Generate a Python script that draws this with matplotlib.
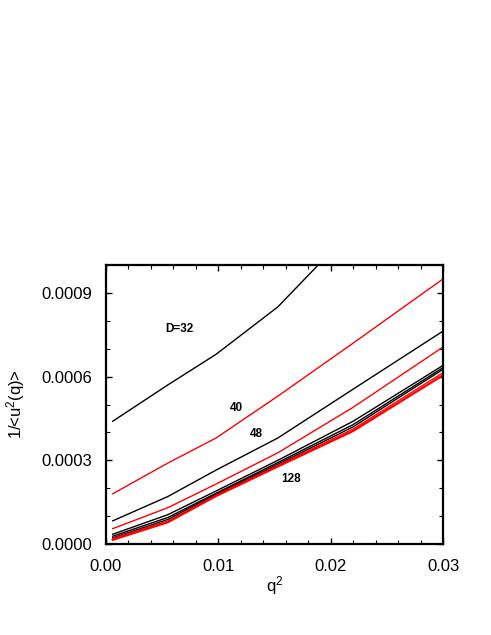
import matplotlib
matplotlib.use('Agg')
import matplotlib.pyplot as plt
from matplotlib.ticker import MultipleLocator

plt.rcParams['font.family'] = ['Liberation Sans', 'DejaVu Sans']
plt.rcParams['mathtext.fontset'] = 'custom'
plt.rcParams['mathtext.rm'] = 'Liberation Sans'
plt.rcParams['mathtext.it'] = 'Liberation Sans'

# q^2 points
q2 = [0.0006, 0.0055, 0.0098, 0.0153, 0.0220, 0.0300]

# 1/<u^2(q)> for each D
d32 = [0.00044, 0.00057, 0.00068, 0.00085, 0.00113, 0.00140]
d40 = [0.00018, 0.00029, 0.00038, 0.00053, 0.00072, 0.00095]
d48 = [0.000083, 0.00017, 0.000265, 0.00038, 0.000555, 0.000763]
d56 = [0.000055, 0.00013, 0.000215, 0.000327, 0.00049, 0.000706]
d64 = [0.000035, 0.000105, 0.000190, 0.000300, 0.000440, 0.000640]
d72 = [0.000028, 0.000095, 0.000182, 0.000292, 0.000428, 0.000632]
d80 = [0.000022, 0.000088, 0.000178, 0.000286, 0.000420, 0.000626]
d96 = [0.000020, 0.000082, 0.000175, 0.000282, 0.000412, 0.000614]
d128 = [0.000015, 0.000078, 0.000172, 0.000278, 0.000405, 0.000605]

fig = plt.figure(figsize=(4.91, 6.35), dpi=100)
ax = fig.add_axes([106 / 491, 1 - 544 / 635, 337 / 491, 279 / 635])

ax.plot(q2, d32, color='black', lw=1.0)
ax.plot(q2, d40, color='red', lw=1.0)
ax.plot(q2, d48, color='black', lw=1.0)
ax.plot(q2, d56, color='red', lw=1.0)
ax.plot(q2, d64, color='black', lw=1.0)
ax.plot(q2, d72, color='black', lw=1.0)
ax.plot(q2, d80, color='black', lw=1.0)
ax.plot(q2, d96, color='red', lw=1.0)
ax.plot(q2, d128, color='red', lw=1.6)

ax.text(0.0065, 0.00077, 'D=32', fontsize=8.5, fontweight='bold', ha='center', va='center')
ax.text(0.0116, 0.000487, '40', fontsize=8.5, fontweight='bold', ha='center', va='center')
ax.text(0.0134, 0.000394, '48', fontsize=8.5, fontweight='bold', ha='center', va='center')
ax.text(0.0165, 0.000233, '128', fontsize=8.5, fontweight='bold', ha='center', va='center')

ax.set_xlim(0, 0.03)
ax.set_ylim(0, 0.001)
ax.set_xticks([0.0, 0.01, 0.02, 0.03])
ax.set_xticklabels(['0.00', '0.01', '0.02', '0.03'])
ax.set_yticks([0.0, 0.0003, 0.0006, 0.0009])
ax.set_yticklabels(['0.0000', '0.0003', '0.0006', '0.0009'])
ax.xaxis.set_minor_locator(MultipleLocator(0.002))
ax.yaxis.set_minor_locator(MultipleLocator(0.0001))
ax.tick_params(which='both', direction='in', top=True, right=True, labelsize=12)
ax.tick_params(which='major', length=4, width=1)
ax.tick_params(which='minor', length=3, width=0.8)
ax.tick_params(axis='x', pad=11)
ax.tick_params(axis='y', pad=10)
for s in ax.spines.values():
    s.set_linewidth(1.6)

ax.set_xlabel('q$^2$', fontsize=12, labelpad=0)
ax.set_ylabel('1/<u$^2$(q)>', fontsize=12, labelpad=10)

fig.savefig('out.png', dpi=100)
